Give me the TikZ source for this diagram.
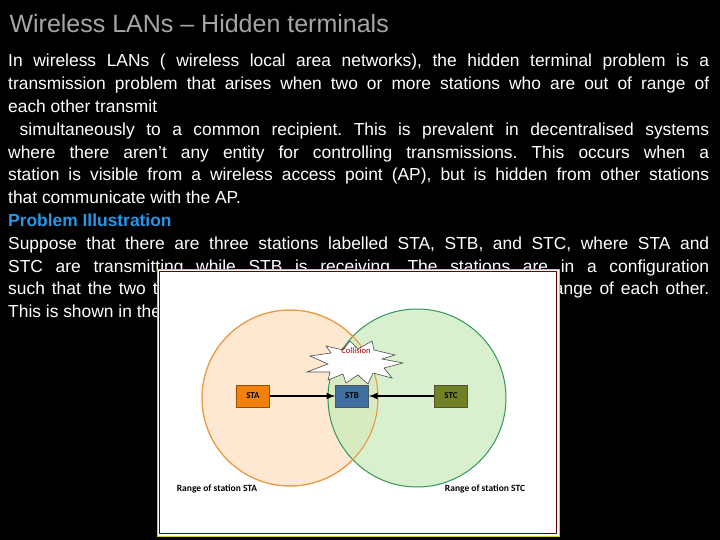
\documentclass[tikz,border=0pt]{standalone}
\usepackage{fontspec}
\setmainfont{Liberation Sans}
\newfontfamily\calib{Carlito}
\begin{document}
\begin{tikzpicture}[x=1pt,y=-1pt,
  station/.style={minimum width=33pt,minimum height=22pt,inner sep=0pt,font=\calib\bfseries\fontsize{9}{10}\selectfont},
  rangelbl/.style={font=\calib\bfseries\fontsize{9.5}{11}\selectfont,text=black},
  link/.style={line width=2pt,-latex}]
\definecolor{bodyblue}{RGB}{40,150,230}
\definecolor{greenfill}{RGB}{200,235,185}
\definecolor{greenline}{RGB}{50,150,90}
\useasboundingbox (0,0) rectangle (720,540);
\fill[black] (0,0) rectangle (720,540);
\node[anchor=west,text=gray!70!white,font=\fontsize{25}{28}\selectfont] (title) at (6,24) {Wireless LANs – Hidden terminals};
\node[anchor=north west,text width=701pt,inner sep=0pt,text=white,align=justify,font=\fontsize{17.4}{22.8}\selectfont] (body) at (8,54) {\frenchspacing
In wireless LANs ( wireless local area networks), the hidden terminal problem is a\linebreak transmission problem that arises when two or more stations who are out of range of\linebreak each other transmit\par
\ simultaneously to a common recipient. This is prevalent in decentralised systems\linebreak where there aren’t any entity for controlling transmissions. This occurs when a\linebreak station is visible from a wireless access point (AP), but is hidden from other stations\linebreak that communicate with the AP.\par
{\color{bodyblue}\bfseries Problem Illustration}\par
Suppose that there are three stations labelled STA, STB, and STC, where STA and\linebreak STC are transmitting while STB is receiving. The stations are in a configuration\linebreak such that the two transmitting stations STA and STC are not in the range of each other.\linebreak This is shown in the figure below.\par};
% figure
\draw[yellow!80!black,line width=0.6pt,fill=white] (157,269) rectangle (559,536);
\draw[red!40!black,line width=1.6pt] (159.5,271.5) rectangle (556.5,533.5);
\fill[orange!18,draw=orange!60!brown!80,line width=1pt] (290,398) circle (88);
\fill[greenfill,fill opacity=0.7,draw=greenline,line width=1pt] (417,398) circle (89);
\draw[orange!60!brown!80,line width=1pt] (290,398) circle (88);
\fill[white,draw=black!70,line width=0.6pt] (307,372) -- (328,364) -- (310,356) -- (331,353) -- (326,346) -- (343,350) -- (350,341) -- (358,349) -- (372,341) -- (374,350) -- (395,355) -- (382,359) -- (403,363) -- (384,368) -- (392,378) -- (373,373) -- (368,384) -- (358,375) -- (346,383) -- (343,374) -- (328,380) -- (330,372) -- cycle;
\node[text=red!60!black,font=\calib\fontsize{8.5}{9}\selectfont] (coll) at (356,351) {Collision};
\node[station,fill=orange!80!brown,draw=orange!60!black] (sta) at (253,396) {STA};
\node[station,fill=cyan!60!blue!70!black,draw=cyan!30!black] (stb) at (352,396) {STB};
\node[station,fill=olive!70!green!80!black,draw=olive!50!black] (stc) at (451,396) {STC};
\draw[link] (sta) -- (stb);
\draw[link] (stc) -- (stb);
\node[rangelbl] (la) at (217,489) {Range of station STA};
\node[rangelbl] (lc) at (485,489) {Range of station STC};
\end{tikzpicture}
\end{document}
